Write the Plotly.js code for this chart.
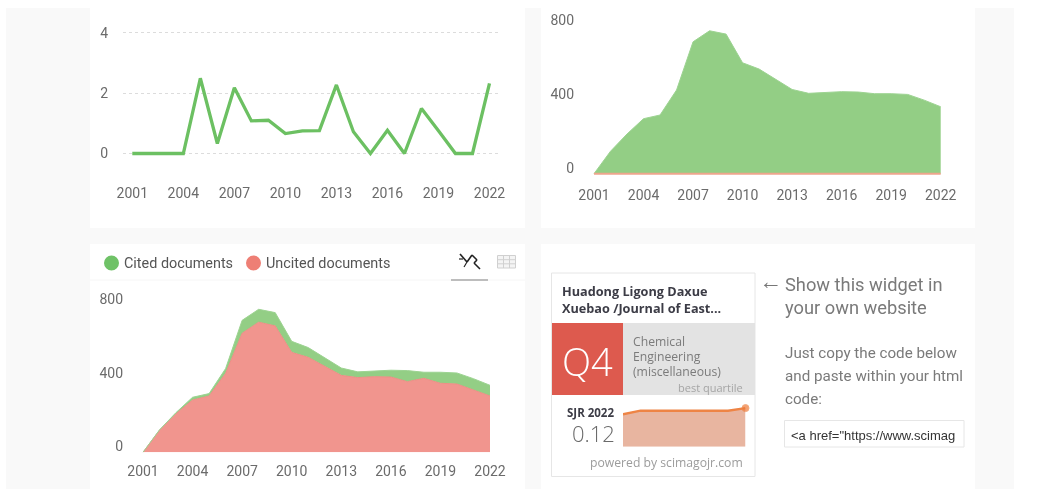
<!DOCTYPE html>
<html><head><meta charset="utf-8">
<script src="https://cdn.plot.ly/plotly-3.0.1.min.js"></script>
<style>html,body{margin:0;padding:0;background:#fff;overflow:hidden}#c{width:1042px;height:489px;filter:blur(0.45px)}</style>
</head><body><div id="c"></div>
<script>
const years = [2001,2002,2003,2004,2005,2006,2007,2008,2009,2010,2011,2012,2013,2014,2015,2016,2017,2018,2019,2020,2021,2022];
const tickYears = [2001,2004,2007,2010,2013,2016,2019,2022];
const citesPerDoc = [0,0,0,0,2.49,0.33,2.18,1.08,1.1,0.66,0.75,0.76,2.27,0.72,0,0.77,0,1.49,0.75,0,0,2.32];
const citedDocs = [0,2,6,15,13,26,70,70,72,60,53,44,40,31,31,37,60,33,60,60,61,58];
const uncitedDocs = [0,120,210,284,306,429,647,707,687,543,516,469,418,406,411,409,384,402,375,371,339,306];
const noUncited = years.map(() => 0);
const totalDocs = citedDocs.map((v,i) => v + uncitedDocs[i]);
const sjrYears = [2015,2016,2017,2018,2019,2020,2021,2022];
const sjrValues = [0.101,0.112,0.112,0.112,0.112,0.112,0.112,0.12];
const legendNames = ['Cited documents','Uncited documents'];

const W = 1042, H = 489;
const px = x => x / W, py = y => 1 - y / H;
const font = 'Roboto, sans-serif';
const openSans = '"Open Sans", sans-serif';
const GREEN = '#93ce85', RED = '#f1958e';

function rect(x0,y0,x1,y1,fill,line){return {type:'rect',xref:'paper',yref:'paper',x0:px(x0),x1:px(x1),y0:py(y0),y1:py(y1),fillcolor:fill,line:line||{width:0},layer:'below'};}
function seg(x0,y0,x1,y1,color,w){return {type:'line',xref:'paper',yref:'paper',x0:px(x0),x1:px(x1),y0:py(y0),y1:py(y1),line:{color:color,width:w},layer:'above'};}
function txt(x,y,text,size,color,anchor,family,weight){return {xref:'paper',yref:'paper',x:px(x),y:py(y),text:text,showarrow:false,xanchor:anchor||'left',yanchor:'middle',font:{family:family||font,size:size,color:color,weight:weight||400},borderpad:0,borderwidth:0,align:anchor||'left'};}

function xAxis(dom,first,last,anchor){
  const step=(last-first)/21;
  return {domain:[px(dom[0]),px(dom[1])],range:[2001-(first-dom[0])/step,2022+(dom[1]-last)/step],anchor:anchor,
    tickvals:tickYears,ticktext:tickYears.map(String),showgrid:false,zeroline:false,showline:false,ticklen:0,
    ticklabelstandoff:9,tickfont:{family:font,size:14,color:'#6b6b6b'},fixedrange:true};
}
function yAxis(dom,range,tv,anchor,standoff,shift,grid){
  return {domain:[py(dom[1]),py(dom[0])],range:range,anchor:anchor,tickvals:tv,ticktext:tv.map(String),
    showgrid:!!grid,gridcolor:'#dcdcdc',griddash:'dot',gridwidth:1,zeroline:false,showline:false,ticklen:0,
    ticklabelstandoff:standoff,ticklabelshift:shift,tickfont:{family:font,size:14,color:'#6b6b6b'},fixedrange:true};
}

const traces = [
  {x:years,y:citesPerDoc,xaxis:'x',yaxis:'y',mode:'lines',line:{color:'#6cc062',width:3.3},showlegend:false,cliponaxis:false},
  {x:years,y:totalDocs,xaxis:'x2',yaxis:'y2',mode:'lines',fill:'tozeroy',fillcolor:GREEN,line:{color:'#9dd392',width:1},showlegend:false},
  {x:years,y:noUncited,xaxis:'x2',yaxis:'y2',mode:'lines',line:{color:'#eda58c',width:2},showlegend:false},
  {x:years,y:uncitedDocs,xaxis:'x3',yaxis:'y3',mode:'lines',stackgroup:'docs',fillcolor:RED,line:{color:'#ee8d85',width:1},showlegend:false},
  {x:years,y:citedDocs,xaxis:'x3',yaxis:'y3',mode:'lines',stackgroup:'docs',fillcolor:GREEN,line:{color:'#9dd392',width:1},showlegend:false},
  {x:sjrYears,y:sjrValues,xaxis:'x4',yaxis:'y4',mode:'lines+markers',fill:'tozeroy',fillcolor:'#e8b5a0',line:{color:'#ee8445',width:2.4},
   marker:{color:'#ee7a38',size:sjrYears.map((y,i)=>i===sjrYears.length-1?7:0)},showlegend:false,cliponaxis:false},
];

const shapes = [
  rect(6,8,1014,489,'#f9f9f9'),
  rect(90,8,525,228,'#ffffff'),
  rect(541,8,975,228,'#ffffff'),
  rect(90,244,525,489,'#ffffff'),
  rect(541,244,975,489,'#ffffff'),
  seg(90,280,525,280,'#f6f6f6',1),
  rect(551.5,273,755,476.5,'#ffffff',{color:'#e6e6e6',width:1}),
  rect(552,323,623,395,'#dd5a4e'),
  rect(623,323,755,395,'#e3e3e3'),
  rect(784.5,420.5,964,447,'#ffffff',{color:'#e6e6e6',width:1}),
  {type:'circle',xref:'paper',yref:'paper',x0:px(104),x1:px(119),y0:py(255.5),y1:py(270.5),fillcolor:'#6fc267',line:{width:0}},
  {type:'circle',xref:'paper',yref:'paper',x0:px(246),x1:px(261),y0:py(255.5),y1:py(270.5),fillcolor:'#ee7f75',line:{width:0}},
  seg(451,280,488,280,'#bdbdbd',2),
  seg(460,254,467,262,'#222',1.6),seg(467,262,472,255,'#222',1.6),seg(472,255,477,260,'#222',1.6),seg(477,260,474,263,'#222',1.6),seg(474,263,480,269,'#222',1.6),
  seg(459,259,463,259,'#222',1.2),seg(467,262,464,267,'#222',1.2),
  rect(497.5,255.5,515.5,268,'#f4f4f4',{color:'#d0d0d0',width:1}),
  seg(503.5,255.5,503.5,268,'#d0d0d0',1),seg(509.5,255.5,509.5,268,'#d0d0d0',1),
  seg(497.5,259.7,515.5,259.7,'#d0d0d0',1),seg(497.5,263.8,515.5,263.8,'#d0d0d0',1),
];

const annotations = [
  txt(124,263,legendNames[0],14.4,'#555'),
  txt(266,263,legendNames[1],14.4,'#555'),
  txt(562,291,'<b>Huadong Ligong Daxue</b>',12.7,'#3c3c46','left',openSans),
  txt(562,307.5,'<b>Xuebao /Journal of East...</b>',12.7,'#3c3c46','left',openSans),
  txt(587.5,361,'Q4',38,'#ffffff','center',openSans,300),
  txt(633,341.5,'Chemical',12.2,'#7b7b7b','left',openSans),
  txt(633,356.5,'Engineering',12.2,'#7b7b7b','left',openSans),
  txt(633,371.5,'(miscellaneous)',12.2,'#7b7b7b','left',openSans),
  txt(743,387.5,'best quartile',11,'#a5a5a5','right',openSans),
  txt(590,412.5,'<b>SJR 2022</b>',11.5,'#3c3c46','center',openSans),
  txt(593,433,'0.12',22,'#6a6a6a','center',openSans,300),
  txt(743,462.5,'powered by scimagojr.com',12.2,'#9c9c9c','right',openSans),
  txt(759,281,'←',23,'#777','left','"Liberation Sans", sans-serif'),
  txt(785,284,'Show this widget in',18.3,'#7a7a7a'),
  txt(785,307.5,'your own website',18.3,'#7a7a7a'),
  txt(785,352.5,'Just copy the code below',15.2,'#7a7a7a'),
  txt(785,376,'and paste within your html',15.2,'#7a7a7a'),
  txt(785,399,'code:',15.2,'#7a7a7a'),
  txt(791,435,'&lt;a href="https://www.scimag',13,'#333','left','"Liberation Sans", sans-serif'),
];

const layout = {
  width:W,height:H,margin:{l:0,r:0,t:0,b:0,pad:0},paper_bgcolor:'#ffffff',plot_bgcolor:'rgba(0,0,0,0)',showlegend:false,hovermode:false,
  xaxis:xAxis([123,499],132.3,489.5,'y'),
  yaxis:yAxis([20,173.7],[-0.669,4.42],[0,2,4],'x',14,0,true),
  xaxis2:xAxis([578,960],594,940.7,'y2'),
  yaxis2:yAxis([10,175.7],[-10.87,890],[0,400,800],'x2',3,-6,false),
  xaxis3:xAxis([128,510],143,490,'y3'),
  yaxis3:yAxis([285,452.3],[0,909],[0,400,800],'x3',4,-6,false),
  xaxis4:{domain:[px(623),px(745.5)],range:[2015,2022],anchor:'y4',visible:false,fixedrange:true},
  yaxis4:{domain:[py(446.7),py(400)],range:[0,0.1452],anchor:'x4',visible:false,fixedrange:true},
  shapes:shapes,annotations:annotations
};
Plotly.newPlot('c',traces,layout,{displayModeBar:false,staticPlot:true});
</script></body></html>
